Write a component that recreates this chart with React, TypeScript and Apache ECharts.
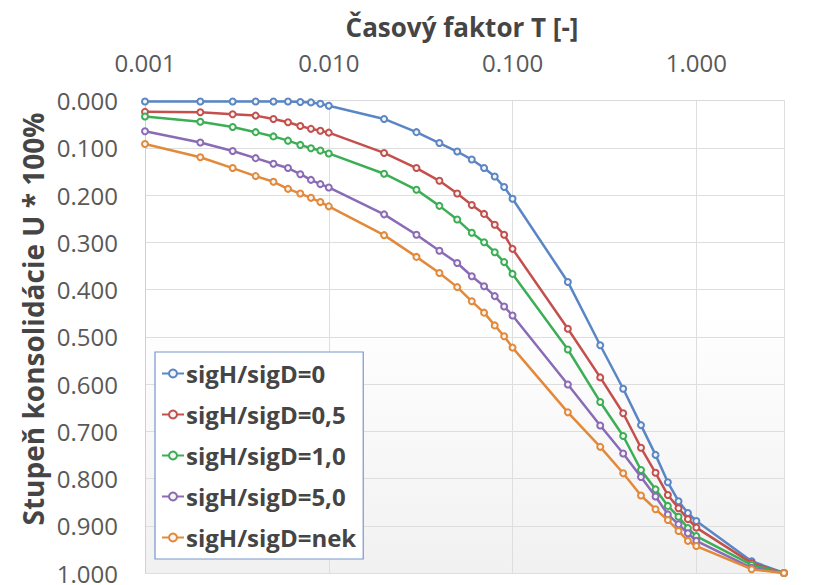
import React, { useEffect, useRef } from "react";
import * as echarts from "echarts";

const T = [
  0.001, 0.002, 0.003, 0.004, 0.005, 0.006, 0.007, 0.008, 0.009,
  0.01, 0.02, 0.03, 0.04, 0.05, 0.06, 0.07, 0.08, 0.09,
  0.1, 0.2, 0.3, 0.4, 0.5, 0.6, 0.7, 0.8, 0.9,
  1.0, 2.0, 3.0,
];

const s0 = [
  0.002, 0.002, 0.002, 0.002, 0.002, 0.002, 0.003, 0.004, 0.007,
  0.011, 0.039, 0.067, 0.090, 0.108, 0.125, 0.143, 0.161, 0.183,
  0.208, 0.384, 0.518, 0.610, 0.687, 0.750, 0.808, 0.848, 0.873,
  0.890, 0.975, 1.0,
];
const s05 = [
  0.024, 0.025, 0.029, 0.032, 0.039, 0.046, 0.054, 0.060, 0.064,
  0.068, 0.111, 0.143, 0.170, 0.197, 0.221, 0.240, 0.263, 0.284,
  0.314, 0.483, 0.586, 0.662, 0.735, 0.788, 0.835, 0.863, 0.886,
  0.904, 0.979, 1.0,
];
const s10 = [
  0.034, 0.045, 0.056, 0.067, 0.076, 0.085, 0.094, 0.101, 0.106,
  0.112, 0.155, 0.189, 0.223, 0.252, 0.280, 0.300, 0.321, 0.342,
  0.367, 0.527, 0.638, 0.710, 0.782, 0.823, 0.858, 0.881, 0.905,
  0.922, 0.983, 1.0,
];
const s50 = [
  0.065, 0.089, 0.107, 0.122, 0.134, 0.143, 0.156, 0.168, 0.177,
  0.184, 0.241, 0.284, 0.318, 0.344, 0.372, 0.393, 0.414, 0.436,
  0.455, 0.601, 0.688, 0.747, 0.797, 0.838, 0.876, 0.897, 0.916,
  0.932, 0.989, 1.0,
];
const sNek = [
  0.092, 0.120, 0.143, 0.160, 0.172, 0.187, 0.197, 0.206, 0.215,
  0.224, 0.285, 0.331, 0.365, 0.395, 0.425, 0.449, 0.476, 0.499,
  0.523, 0.660, 0.733, 0.789, 0.836, 0.865, 0.888, 0.911, 0.932,
  0.943, 0.992, 1.0,
];

const seriesNames = [
  "sigH/sigD=0",
  "sigH/sigD=0,5",
  "sigH/sigD=1,0",
  "sigH/sigD=5,0",
  "sigH/sigD=nek",
];
const seriesData = [s0, s05, s10, s50, sNek];
const colors = ["#5a86c5", "#c4504d", "#3cae55", "#8a6bb5", "#e2893a"];

const xTitle = "Časový faktor T [-]";
const yTitle = "Stupeň konsolidácie U * 100%";

const FONT = "'Open Sans', 'DejaVu Sans', sans-serif";

export default function App() {
  const ref = useRef<HTMLDivElement>(null);
  useEffect(() => {
    if (!ref.current) return;
    const chart = echarts.init(ref.current, undefined, { renderer: "svg" });
    chart.setOption({
      animation: false,
      backgroundColor: "#ffffff",
      textStyle: { fontFamily: FONT },
      grid: {
        left: 145,
        right: 30,
        top: 100.5,
        bottom: 11,
        show: true,
        borderWidth: 0,
        backgroundColor: {
          type: "linear",
          x: 0,
          y: 0,
          x2: 0,
          y2: 1,
          colorStops: [
            { offset: 0, color: "#ffffff" },
            { offset: 0.45, color: "#ffffff" },
            { offset: 1, color: "#f1f1f1" },
          ],
        },
      },
      xAxis: {
        type: "log",
        logBase: 10,
        position: "top",
        min: 0.001,
        max: 3,
        axisLine: { show: true, lineStyle: { color: "#d9d9d9", width: 1 } },
        axisTick: { show: false },
        axisLabel: {
          margin: 26,
          fontFamily: FONT,
          fontSize: 24,
          color: "#595959",
          showMaxLabel: false,
          formatter: (v: number) => {
            const l = Math.log10(v);
            if (Math.abs(l - Math.round(l)) > 1e-6) return "";
            return v.toFixed(3);
          },
        },
        splitLine: { show: true, lineStyle: { color: "#dedede", width: 1 } },
      },
      yAxis: {
        type: "value",
        inverse: true,
        min: 0,
        max: 1,
        interval: 0.1,
        axisLine: { show: true, lineStyle: { color: "#d0d0d0", width: 1 } },
        axisTick: { show: false },
        axisLabel: {
          margin: 27,
          fontFamily: FONT,
          fontSize: 24,
          color: "#595959",
          formatter: (v: number) => v.toFixed(3),
        },
        splitLine: { show: true, lineStyle: { color: "#dedede", width: 1 } },
      },
      legend: {
        orient: "vertical",
        left: 155,
        top: 352,
        padding: [9, 7, 9, 6],
        backgroundColor: "#ffffff",
        borderColor: "#7896cc",
        borderWidth: 1.2,
        borderRadius: 0,
        itemWidth: 22,
        itemHeight: 10,
        itemGap: 16,
        textStyle: {
          fontFamily: FONT,
          fontSize: 24,
          fontWeight: "bold",
          color: "#454545",
          lineHeight: 25,
          padding: [0, 0, 0, -3],
        },
        data: seriesNames,
      },
      graphic: [
        {
          type: "text",
          x: 462,
          y: 27,
          style: {
            text: xTitle,
            fontFamily: FONT,
            fontSize: 26,
            fontWeight: "bold",
            fill: "#454545",
            textAlign: "center",
            textVerticalAlign: "middle",
          },
        },
        {
          type: "text",
          x: 33,
          y: 319,
          rotation: Math.PI / 2,
          style: {
            text: yTitle,
            fontFamily: FONT,
            fontSize: 28,
            fontWeight: "bold",
            fill: "#454545",
            textAlign: "center",
            textVerticalAlign: "middle",
          },
        },
        {
          type: "line",
          shape: { x1: 0, y1: 583, x2: 814, y2: 583 },
          style: {
            lineWidth: 2,
            stroke: {
              type: "linear",
              x: 0,
              y: 0,
              x2: 1,
              y2: 0,
              colorStops: [
                { offset: 0, color: "#f6bd2a" },
                { offset: 0.8, color: "#f6bd2a" },
                { offset: 1, color: "rgba(246,189,42,0.3)" },
              ],
            },
          },
          z: 100,
        },
      ],
      series: seriesNames.map((name, i) => ({
        name,
        type: "line",
        data: T.map((t, j) => [t, seriesData[i][j]]),
        symbol: "circle",
        symbolSize: 6,
        showSymbol: true,
        lineStyle: { color: colors[i], width: 2.5 },
        itemStyle: { color: "#f4f4f4", borderColor: colors[i], borderWidth: 2 },
        z: 2 + i,
      })),
    });
    return () => chart.dispose();
  }, []);
  return <div ref={ref} style={{ width: 814, height: 585, position: "absolute", left: 0, top: 0 }} />;
}
